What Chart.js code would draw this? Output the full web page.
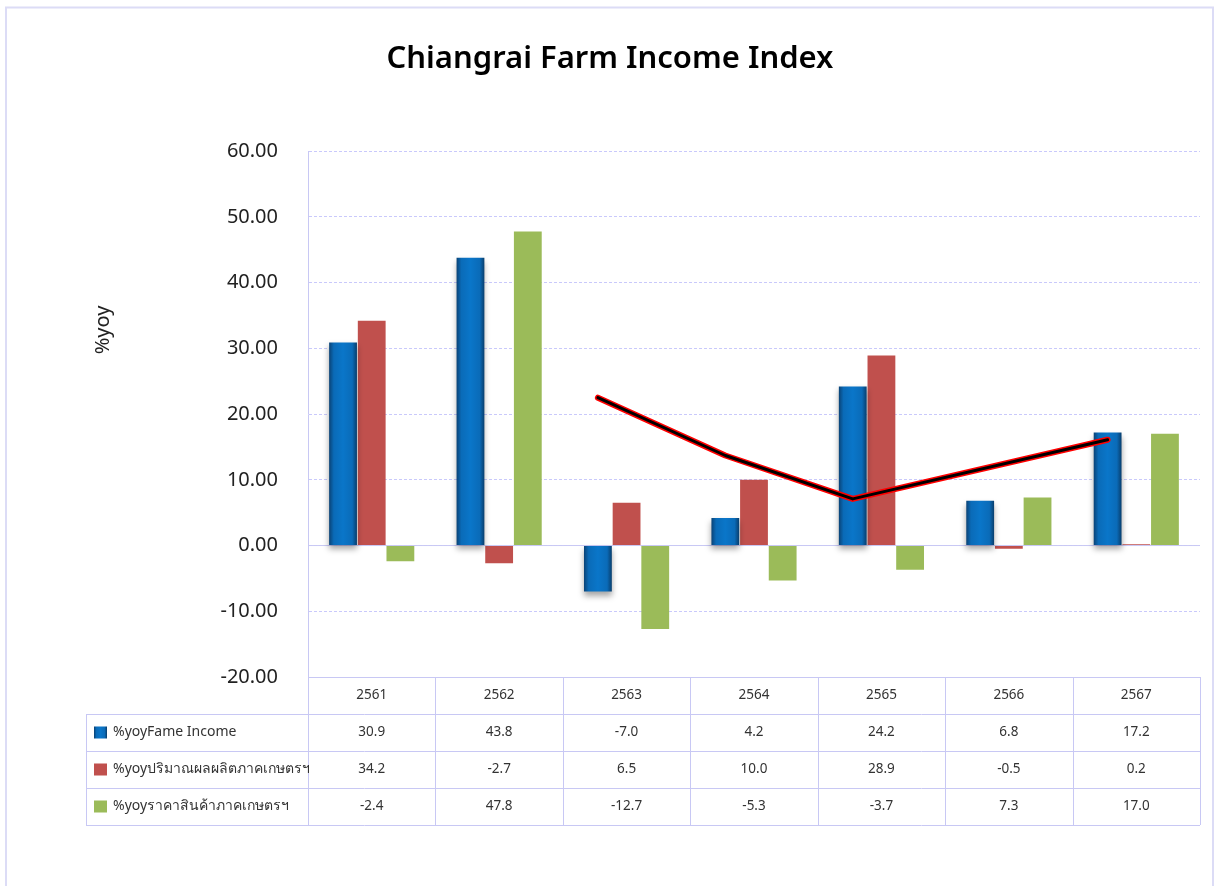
<!DOCTYPE html>
<html>
<head>
<meta charset="utf-8">
<script src="https://cdn.jsdelivr.net/npm/chart.js@4"></script>
<style>body{margin:0;background:#fff}</style>
</head>
<body>
<canvas id="farmChart" width="1216" height="886"></canvas>
<script>
const years = ['2561', '2562', '2563', '2564', '2565', '2566', '2567'];
const seriesNames = ['%yoyFame Income', '%yoyปริมาณผลผลิตภาคเกษตรฯ', '%yoyราคาสินค้าภาคเกษตรฯ'];
const incomeYoy = [30.9, 43.8, -7.0, 4.2, 24.2, 6.8, 17.2];
const outputYoy = [34.2, -2.7, 6.5, 10.0, 28.9, -0.5, 0.2];
const priceYoy = [-2.4, 47.8, -12.7, -5.3, -3.7, 7.3, 17.0];
// red/black line drawn over the income bars (no label in the table)
const trendYoy = [null, null, 22.5, 13.7, 7.1, null, 16.1];

const colors = ['#0070C0', '#C0504D', '#9BBB59'];
const catPct = 0.675;
const gridColor = '#c9c9fb';
const font = "'Noto Sans', sans-serif";

// x is a numeric year index; income bar sits in the left third of each group
const blueShift = -catPct / 3;
const toPoints = (vals, shift) => vals.map((v, i) => ({ x: i + shift, y: v }));

function blueGradient(c, x0, x1) {
  const g = c.createLinearGradient(x0, 0, x1, 0);
  g.addColorStop(0, '#0a3f70');
  g.addColorStop(0.18, '#0a6bb8');
  g.addColorStop(0.5, '#0a76c9');
  g.addColorStop(0.82, '#0a6bb8');
  g.addColorStop(1, '#083a66');
  return g;
}

const extras = {
  id: 'extras',
  beforeDraw(chart) {
    const c = chart.ctx;
    c.save();
    c.strokeStyle = '#dcdcf6';
    c.lineWidth = 2;
    c.strokeRect(6, 7.5, 1207, 900);
    c.restore();
  },
  beforeDatasetsDraw(chart) {
    const c = chart.ctx, a = chart.chartArea;
    const y0 = chart.scales.y.getPixelForValue(0);
    c.save();
    c.strokeStyle = '#c8c8f4';
    c.lineWidth = 1;
    c.beginPath();
    c.moveTo(a.left, y0);
    c.lineTo(a.right, y0);
    c.stroke();
    c.restore();
  },
  beforeDatasetDraw(chart, args) {
    if (args.index === 0) {
      const c = chart.ctx;
      c.save();
      c.shadowColor = 'rgba(0,0,0,0.35)';
      c.shadowBlur = 6;
      c.shadowOffsetY = 4;
    }
  },
  afterDatasetDraw(chart, args) {
    if (args.index === 0) chart.ctx.restore();
  },
  afterDraw(chart) {
    const c = chart.ctx, a = chart.chartArea;
    const xs = chart.scales.x;
    const colW = a.width / years.length;
    const rowH = 37;
    const top = a.bottom;
    const legLeft = 86;
    const rows = [incomeYoy, outputYoy, priceYoy];

    c.save();
    c.strokeStyle = '#c8c8f4';
    c.lineWidth = 1;
    c.beginPath();
    c.moveTo(a.left, top + 0.5); c.lineTo(a.right, top + 0.5);
    for (let r = 1; r <= 4; r++) {
      c.moveTo(legLeft, top + r * rowH + 0.5);
      c.lineTo(a.right, top + r * rowH + 0.5);
    }
    c.moveTo(legLeft + 0.5, top + rowH); c.lineTo(legLeft + 0.5, top + 4 * rowH);
    for (let i = 0; i <= years.length; i++) {
      const x = Math.round(xs.getPixelForValue(i) - colW / 2) + 0.5;
      c.moveTo(x, top); c.lineTo(x, top + 4 * rowH);
    }
    c.stroke();

    c.fillStyle = '#333';
    c.font = "13.5px " + font;
    c.textAlign = 'center';
    c.textBaseline = 'middle';
    years.forEach((y, i) => {
      const x = xs.getPixelForValue(i);
      c.fillText(y, x, top + rowH / 2);
      rows.forEach((vals, r) => {
        c.fillText(vals[i].toFixed(1), x, top + (r + 1.5) * rowH);
      });
    });

    c.textAlign = 'left';
    c.font = "14px " + font;
    seriesNames.forEach((name, r) => {
      const yc = top + (r + 1.5) * rowH;
      c.fillStyle = r === 0 ? blueGradient(c, 94, 107) : colors[r];
      c.fillRect(94, yc - 6, 13, 12);
      c.fillStyle = '#333';
      c.fillText(name, 113, yc);
    });

    // y axis title
    c.translate(103, 330);
    c.rotate(-Math.PI / 2);
    c.textAlign = 'center';
    c.fillStyle = '#222';
    c.font = "20px " + font;
    c.fillText('%yoy', 0, 0);
    c.restore();
  }
};

new Chart(document.getElementById('farmChart'), {
  type: 'bar',
  data: {
    datasets: [
      {
        label: seriesNames[0], data: toPoints(incomeYoy, 0), order: 2,
        backgroundColor: ctx => {
          const ch = ctx.chart;
          if (!ch.chartArea || ctx.dataIndex === undefined) return colors[0];
          const xs = ch.scales.x;
          const w = xs.width / years.length * catPct / 3;
          const cx = xs.getPixelForValue(ctx.dataIndex + blueShift);
          return blueGradient(ch.ctx, cx - w / 2, cx + w / 2);
        }
      },
      { label: seriesNames[1], data: toPoints(outputYoy, 0), order: 2, backgroundColor: colors[1] },
      { label: seriesNames[2], data: toPoints(priceYoy, 0), order: 2, backgroundColor: colors[2] },
      {
        type: 'line', label: 'trend-outer', data: toPoints(trendYoy, blueShift), order: 1,
        borderColor: '#ff0000', borderWidth: 6, pointRadius: 0, spanGaps: true,
        borderCapStyle: 'round', borderJoinStyle: 'round'
      },
      {
        type: 'line', label: 'trend', data: toPoints(trendYoy, blueShift), order: 0,
        borderColor: '#000000', borderWidth: 3, pointRadius: 0, spanGaps: true,
        borderCapStyle: 'round', borderJoinStyle: 'round'
      }
    ]
  },
  options: {
    responsive: false,
    animation: false,
    datasets: { bar: { categoryPercentage: catPct, barPercentage: 0.97 } },
    layout: { padding: { left: 20, right: 16, top: 41, bottom: 209 } },
    plugins: {
      legend: { display: false },
      tooltip: { enabled: false },
      title: {
        display: true,
        text: 'Chiangrai Farm Income Index',
        color: '#000',
        font: { family: font, size: 31, weight: '600' },
        padding: { top: 0, bottom: 73 }
      }
    },
    scales: {
      x: {
        type: 'linear', display: false, offset: false,
        min: -0.5, max: years.length - 0.5,
        ticks: { stepSize: 1, includeBounds: false }
      },
      y: {
        min: -20, max: 60,
        afterFit: s => { s.width = 288; },
        border: { display: true, color: '#c8c8f4', dash: [3, 2] },
        grid: { color: gridColor, drawTicks: false },
        ticks: {
          stepSize: 10, padding: 30, color: '#222',
          font: { family: font, size: 20 },
          callback: v => v.toFixed(2)
        }
      }
    }
  },
  plugins: [extras]
});
</script>
</body>
</html>
